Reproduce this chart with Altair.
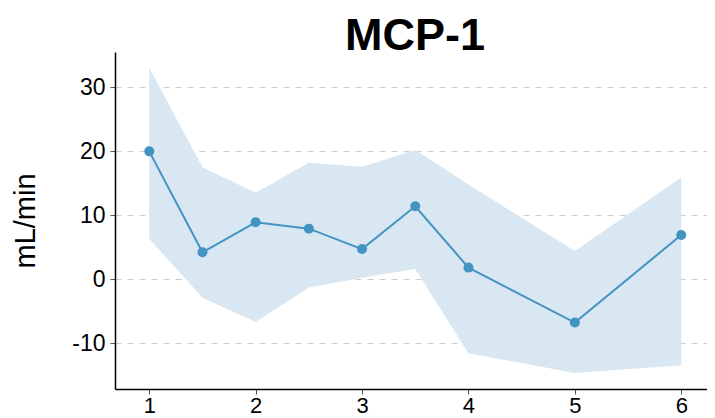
import altair as alt
import pandas as pd

visit = [1, 1.5, 2, 2.5, 3, 3.5, 4, 5, 6]
mean_val = [20.0, 4.2, 8.9, 7.9, 4.7, 11.4, 1.8, -6.8, 6.9]
upper_val = [33.1, 17.5, 13.5, 18.2, 17.6, 20.2, 14.8, 4.4, 15.9]
lower_val = [6.3, -2.9, -6.7, -1.3, 0.2, 1.6, -11.6, -14.7, -13.5]

x_ticks = [1, 2, 3, 4, 5, 6]
y_ticks = [-10, 0, 10, 20, 30]
title_text = ["MCP-1"]

df = pd.DataFrame({"visit": visit, "mean": mean_val, "upper": upper_val, "lower": lower_val})
tdf = pd.DataFrame({"t": title_text})

FONT = "Liberation Sans"
LINE = "#4393c3"
W, H = 592, 337

xs = alt.Scale(domain=[0.678, 6.242], nice=False, zero=False)
ys = alt.Scale(domain=[-17.2, 35.55], nice=False, zero=False)

xax = alt.Axis(values=x_ticks, title=None, grid=False, labelExpr="'' + datum.value",
               domainColor="black", domainWidth=1.5, tickColor="#555555",
               tickSize=5, tickWidth=1, labelFontSize=22, labelColor="black",
               labelFont=FONT, labelPadding=1)
yax = alt.Axis(values=y_ticks, title="mL/min", grid=True, gridDash=[6, 6],
               labelExpr="'' + datum.value",
               gridColor="#cccccc", gridWidth=1.2, domainColor="black", domainWidth=1.5,
               tickColor="#555555", tickSize=5, tickWidth=1, labelFontSize=23,
               labelColor="black", labelFont=FONT, labelPadding=5,
               titleFont=FONT, titleFontSize=29, titleFontWeight="normal",
               titleColor="black", titleX=-81, titleY=H / 2, titleAngle=270,
               titleBaseline="alphabetic", titleAlign="center")

base = alt.Chart(df)

band = base.mark_area(color="#d8e7f2", opacity=1).encode(
    x=alt.X("visit:Q", scale=xs, axis=xax),
    y=alt.Y("upper:Q", scale=ys, axis=yax),
    y2="lower:Q",
)
line = base.mark_line(color=LINE, strokeWidth=2).encode(
    x=alt.X("visit:Q", scale=xs),
    y=alt.Y("mean:Q", scale=ys),
)
pts = base.mark_circle(color=LINE, size=100, opacity=1).encode(
    x=alt.X("visit:Q", scale=xs),
    y=alt.Y("mean:Q", scale=ys),
)
title = alt.Chart(tdf).mark_text(font=FONT, fontSize=45, fontWeight="bold", color="black",
                                 align="center", baseline="alphabetic").encode(
    text="t:N", x=alt.value(300), y=alt.value(-2)
)

chart = (band + line + pts + title).properties(
    width=W,
    height=H,
    autosize=alt.AutoSizeParams(type="none"),
    padding={"left": 107, "top": 44, "right": 0, "bottom": 29},
).configure_view(stroke=None)

chart.save("out.html", embed_options={"renderer": "svg", "actions": False})
